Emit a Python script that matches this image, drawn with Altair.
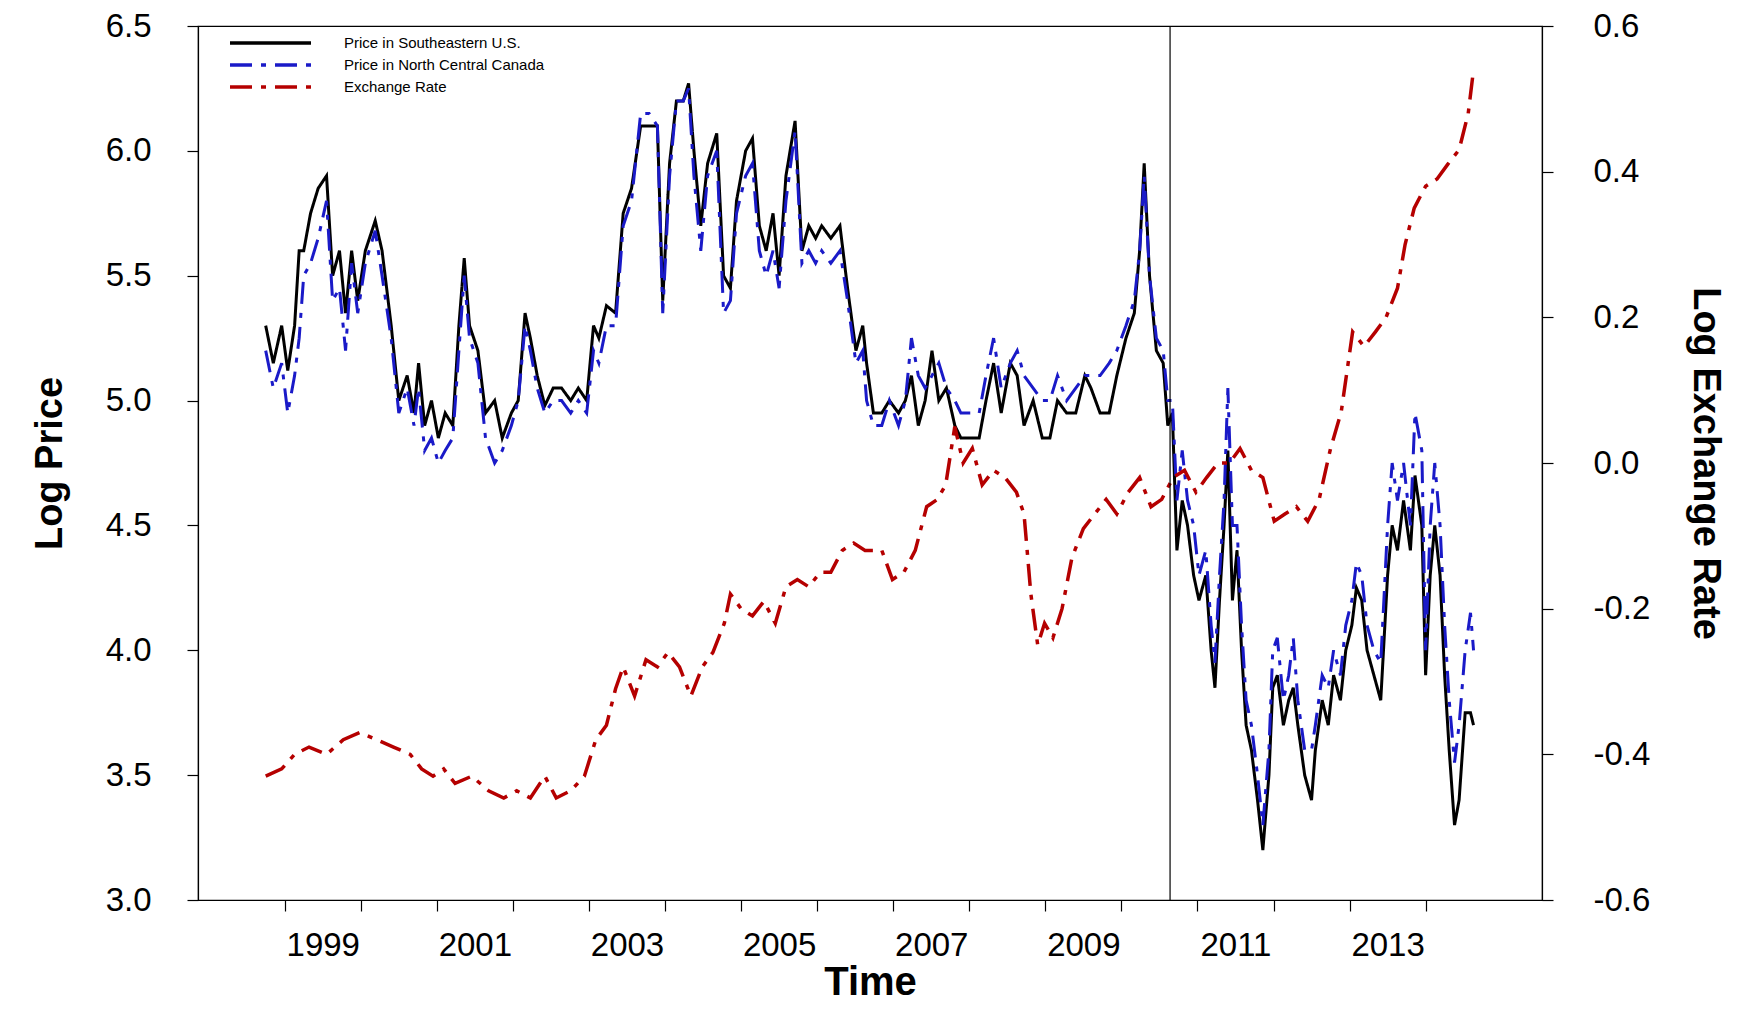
import altair as alt
import pandas as pd

# shared time grid (decimal years) for the two price series
t_price = [
    1998.75, 1998.85, 1998.96, 1999.04, 1999.13, 1999.19, 1999.25, 1999.34, 1999.44, 1999.55,
    1999.63, 1999.72, 1999.80, 1999.88, 1999.96, 2000.06, 2000.19, 2000.28, 2000.40, 2000.50,
    2000.61, 2000.70, 2000.76, 2000.84, 2000.93, 2001.02, 2001.11, 2001.21, 2001.29, 2001.36,
    2001.43, 2001.54, 2001.64, 2001.76, 2001.86, 2001.98, 2002.07, 2002.16, 2002.23, 2002.32,
    2002.42, 2002.53, 2002.64, 2002.76, 2002.86, 2002.97, 2003.06, 2003.13, 2003.23, 2003.35,
    2003.45, 2003.56, 2003.68, 2003.79, 2003.90, 2003.97, 2004.06, 2004.15, 2004.24, 2004.31,
    2004.38, 2004.47, 2004.56, 2004.68, 2004.77, 2004.86, 2004.94, 2005.06, 2005.15, 2005.24,
    2005.33, 2005.42, 2005.50, 2005.59, 2005.71, 2005.80, 2005.89, 2005.98, 2006.06, 2006.18,
    2006.30, 2006.40, 2006.51, 2006.60, 2006.65, 2006.74, 2006.85, 2006.95, 2007.07, 2007.16,
    2007.24, 2007.33, 2007.42, 2007.51, 2007.60, 2007.70, 2007.81, 2007.89, 2008.01, 2008.13,
    2008.22, 2008.32, 2008.42, 2008.54, 2008.63, 2008.72, 2008.84, 2008.96, 2009.06, 2009.16,
    2009.28, 2009.40, 2009.52, 2009.60, 2009.72, 2009.84, 2009.94, 2010.06, 2010.17, 2010.24,
    2010.30, 2010.37, 2010.46, 2010.55, 2010.61, 2010.67, 2010.73, 2010.80, 2010.87, 2010.95,
    2011.02, 2011.11, 2011.18, 2011.23, 2011.29, 2011.35, 2011.40, 2011.46, 2011.52, 2011.58,
    2011.64, 2011.71, 2011.79, 2011.86, 2011.94, 2011.99, 2012.05, 2012.13, 2012.20, 2012.26,
    2012.32, 2012.41, 2012.50, 2012.55, 2012.64, 2012.72, 2012.79, 2012.88, 2012.95, 2013.03,
    2013.09, 2013.16, 2013.23, 2013.32, 2013.41, 2013.50, 2013.56, 2013.63, 2013.71, 2013.80,
    2013.86, 2013.95, 2014.00, 2014.06, 2014.12, 2014.19, 2014.25, 2014.31, 2014.38, 2014.44,
    2014.52, 2014.59, 2014.63,
]
se_us = [
    5.3, 5.15, 5.3, 5.12, 5.3, 5.6, 5.6, 5.75, 5.85, 5.9,
    5.5, 5.6, 5.35, 5.6, 5.4, 5.6, 5.72, 5.6, 5.3, 5.0,
    5.1, 4.95, 5.15, 4.9, 5.0, 4.85, 4.95, 4.9, 5.3, 5.57,
    5.3, 5.2, 4.95, 5.0, 4.85, 4.95, 5.0, 5.35, 5.25, 5.1,
    4.98, 5.05, 5.05, 5.0, 5.05, 5.0, 5.3, 5.25, 5.38, 5.35,
    5.75, 5.85, 6.1, 6.1, 6.1, 5.4, 5.95, 6.2, 6.2, 6.27,
    6.0, 5.7, 5.95, 6.07, 5.5, 5.45, 5.8, 6.0, 6.05, 5.7,
    5.6, 5.75, 5.5, 5.9, 6.12, 5.6, 5.7, 5.65, 5.7, 5.65,
    5.7, 5.45, 5.2, 5.3, 5.15, 4.95, 4.95, 5.0, 4.95, 5.0,
    5.1, 4.9, 5.0, 5.2, 5.0, 5.05, 4.9, 4.85, 4.85, 4.85,
    5.0, 5.15, 4.95, 5.15, 5.1, 4.9, 5.0, 4.85, 4.85, 5.0,
    4.95, 4.95, 5.1, 5.05, 4.95, 4.95, 5.1, 5.25, 5.35, 5.6,
    5.95, 5.5, 5.2, 5.15, 4.9, 4.95, 4.4, 4.6, 4.5, 4.3,
    4.2, 4.3, 4.0, 3.85, 4.2, 4.5, 4.8, 4.2, 4.4, 4.0,
    3.7, 3.6, 3.4, 3.2, 3.5, 3.85, 3.9, 3.7, 3.8, 3.85,
    3.7, 3.5, 3.4, 3.6, 3.8, 3.7, 3.9, 3.8, 4.0, 4.1,
    4.25, 4.2, 4.0, 3.9, 3.8, 4.3, 4.5, 4.4, 4.6, 4.4,
    4.7, 4.5, 3.9, 4.3, 4.5, 4.3, 3.9, 3.6, 3.3, 3.4,
    3.75, 3.75, 3.7,
]
nc_canada = [
    5.2, 5.05, 5.15, 4.95, 5.1, 5.25, 5.5, 5.55, 5.65, 5.8,
    5.4, 5.45, 5.2, 5.55, 5.35, 5.55, 5.68, 5.5, 5.25, 4.95,
    5.05, 4.9, 5.05, 4.8, 4.85, 4.75, 4.8, 4.85, 5.2, 5.5,
    5.25, 5.15, 4.85, 4.75, 4.8, 4.9, 5.0, 5.3, 5.2, 5.05,
    4.95, 5.0, 5.0, 4.95, 5.0, 4.95, 5.2, 5.15, 5.3, 5.3,
    5.7, 5.8, 6.15, 6.15, 6.1, 5.35, 5.9, 6.2, 6.2, 6.25,
    5.9, 5.6, 5.9, 6.0, 5.35, 5.4, 5.75, 5.9, 5.95, 5.6,
    5.5, 5.6, 5.45, 5.8, 6.08, 5.55, 5.6, 5.55, 5.6, 5.55,
    5.6, 5.4, 5.15, 5.2, 5.0, 4.9, 4.9, 5.0, 4.9, 5.0,
    5.25, 5.1, 5.05, 5.1, 5.15, 5.05, 5.0, 4.95, 4.95, 4.95,
    5.1, 5.25, 5.05, 5.15, 5.2, 5.1, 5.05, 5.0, 5.0, 5.1,
    5.0, 5.05, 5.1, 5.1, 5.1, 5.15, 5.2, 5.3, 5.4, 5.6,
    5.9, 5.5, 5.25, 5.2, 5.0, 5.0, 4.6, 4.8, 4.6, 4.5,
    4.3, 4.4, 4.1, 3.95, 4.3, 4.6, 5.05, 4.5, 4.5, 4.1,
    3.8, 3.7, 3.5, 3.3, 3.6, 4.0, 4.05, 3.8, 3.9, 4.05,
    3.8, 3.6, 3.6, 3.7, 3.9, 3.85, 4.0, 3.9, 4.1, 4.2,
    4.35, 4.3, 4.1, 4.0, 3.95, 4.5, 4.75, 4.6, 4.75, 4.5,
    4.95, 4.8, 4.0, 4.5, 4.75, 4.5, 4.1, 3.8, 3.55, 3.7,
    4.0, 4.15, 4.0,
]

t_fx = [
    1998.75, 1998.96, 1999.13, 1999.32, 1999.55, 1999.77, 1999.99, 2000.21, 2000.43, 2000.65,
    2000.80, 2000.95, 2001.09, 2001.24, 2001.46, 2001.68, 2001.88, 2002.05, 2002.23, 2002.42,
    2002.57, 2002.76, 2002.94, 2003.09, 2003.23, 2003.35, 2003.45, 2003.60, 2003.75, 2003.90,
    2004.04, 2004.19, 2004.34, 2004.49, 2004.63, 2004.78, 2004.86, 2005.00, 2005.15, 2005.30,
    2005.45, 2005.59, 2005.74, 2005.89, 2006.04, 2006.18, 2006.33, 2006.48, 2006.63, 2006.85,
    2006.99, 2007.14, 2007.29, 2007.44, 2007.58, 2007.69, 2007.81, 2007.92, 2008.04, 2008.17,
    2008.32, 2008.47, 2008.62, 2008.72, 2008.81, 2008.90, 2008.99, 2009.10, 2009.22, 2009.35,
    2009.50, 2009.65, 2009.80, 2009.94, 2010.09, 2010.24, 2010.39, 2010.53, 2010.68, 2010.83,
    2010.98, 2011.12, 2011.27, 2011.42, 2011.56, 2011.71, 2011.86, 2012.01, 2012.15, 2012.30,
    2012.45, 2012.60, 2012.75, 2012.89, 2013.04, 2013.19, 2013.34, 2013.48, 2013.63, 2013.73,
    2013.85, 2014.00, 2014.15, 2014.29, 2014.44, 2014.56, 2014.63,
]
fx = [
    -0.43, -0.42, -0.40, -0.39, -0.40, -0.38, -0.37, -0.38, -0.39, -0.40,
    -0.42, -0.43, -0.42, -0.44, -0.43, -0.45, -0.46, -0.45, -0.46, -0.43,
    -0.46, -0.45, -0.43, -0.38, -0.36, -0.31, -0.28, -0.32, -0.27, -0.28,
    -0.26, -0.28, -0.32, -0.28, -0.26, -0.22, -0.18, -0.20, -0.21, -0.19,
    -0.22, -0.17, -0.16, -0.17, -0.15, -0.15, -0.12, -0.11, -0.12, -0.12,
    -0.16, -0.15, -0.12, -0.06, -0.05, -0.03, 0.05, 0.0, 0.02, -0.03,
    -0.01, -0.02, -0.04, -0.07, -0.18, -0.25, -0.22, -0.24, -0.20, -0.13,
    -0.09, -0.07, -0.05, -0.07, -0.04, -0.02, -0.06, -0.05, -0.02, -0.01,
    -0.04, -0.02, 0.0, 0.0, 0.02, -0.01, -0.02, -0.08, -0.07, -0.06,
    -0.08, -0.05, 0.02, 0.07, 0.18, 0.16, 0.18, 0.20, 0.24, 0.30,
    0.35, 0.38, 0.39, 0.41, 0.43, 0.48, 0.54,
]
break_year = [2010.64]

names = ['Price in Southeastern U.S.', 'Price in North Central Canada', 'Exchange Rate']
colors = ['#000000', '#1a1ac8', '#b50000']
dashes = [[1, 0], [22, 9, 5, 9], [22, 9, 5, 9]]

prices = pd.concat([
    pd.DataFrame({'t': t_price, 'v': se_us, 's': names[0]}),
    pd.DataFrame({'t': t_price, 'v': nc_canada, 's': names[1]}),
])
rates = pd.DataFrame({'t': t_fx, 'v': fx, 's': names[2]})

x_ticks = list(range(1999, 2015)) + [y + 0.5 for y in range(1999, 2015, 2)]
x_enc = alt.X('t:Q', scale=alt.Scale(domain=[1997.86, 2015.53], nice=False, zero=False),
              axis=alt.Axis(values=x_ticks, title='Time', grid=False,
                            labelExpr="datum.value % 1 != 0 ? toString(floor(datum.value)) : ''",
                            tickOpacity={'condition': {'test': 'datum.value % 1 != 0', 'value': 0}, 'value': 1},
                            labelPadding=18, titleFontSize=40, titleFontWeight='bold', titlePadding=0))

color = alt.Color('s:N', scale=alt.Scale(domain=names, range=colors), legend=None)
dash = alt.StrokeDash('s:N', scale=alt.Scale(domain=names, range=dashes), legend=None)

price_lines = alt.Chart(prices).mark_line(strokeWidth=3).encode(
    x=x_enc,
    y=alt.Y('v:Q', scale=alt.Scale(domain=[3, 6.5], nice=False, zero=False),
            axis=alt.Axis(values=[3, 3.5, 4, 4.5, 5, 5.5, 6, 6.5], format='.1f', title='Log Price',
                          grid=False, labelPadding=36, titlePadding=36)),
    color=color, strokeDash=dash, order='t:Q'
)

fx_line = alt.Chart(rates).mark_line(strokeWidth=3.5).encode(
    x=x_enc,
    y=alt.Y('v:Q', scale=alt.Scale(domain=[-0.6, 0.6], nice=False, zero=False),
            axis=alt.Axis(orient='right', values=[-0.6, -0.4, -0.2, 0, 0.2, 0.4, 0.6],
                          labelExpr="replace(format(datum.value, '.1f'), '\u2212', '-')",
                          title='Log Exchange Rate', titleAngle=90, grid=False,
                          labelPadding=40, titlePadding=36)),
    color=color, strokeDash=dash, order='t:Q'
)

rule = alt.Chart(pd.DataFrame({'t': break_year})).mark_rule(color='black', strokeWidth=1.2).encode(x='t:Q')

# hand-placed legend in the top-left corner of the plot
legend_layers = []
for i, (name, c, d) in enumerate(zip(names, colors, dashes)):
    ypos = 17 + 22 * i
    legend_layers.append(alt.Chart(pd.DataFrame({'s': [name]})).mark_rule(
        color=c, strokeDash=d, strokeWidth=3.5).encode(x=alt.value(32), x2=alt.value(113), y=alt.value(ypos)))
    legend_layers.append(alt.Chart(pd.DataFrame({'s': [name]})).mark_text(
        align='left', baseline='middle', fontSize=15, font='Liberation Sans', color='black').encode(
        text='s:N', x=alt.value(146), y=alt.value(ypos)))

chart = alt.layer(price_lines, fx_line, rule, *legend_layers).resolve_scale(y='independent').properties(
    width=1344, height=874, padding={'left': 23, 'top': 2, 'right': 5, 'bottom': 0}
).configure_view(stroke='black', strokeWidth=1.2).configure_axis(
    labelFont='Liberation Sans', titleFont='Liberation Sans', labelFontSize=33, titleFontSize=38,
    titleFontWeight='bold', labelColor='black', titleColor='black', domainColor='black',
    tickColor='black', tickSize=11, tickWidth=1.2, domainWidth=1.2
)

chart.save('out.html', embed_options={'renderer': 'svg', 'actions': False})
